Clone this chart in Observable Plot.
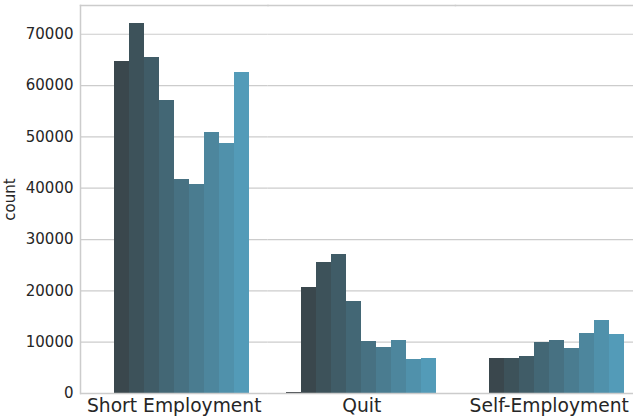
<!DOCTYPE html>
<html>
<head>
<meta charset="utf-8">
<script src="https://cdn.jsdelivr.net/npm/d3@7"></script>
<script src="https://cdn.jsdelivr.net/npm/@observablehq/plot@0.6"></script>
<style>
  html, body { margin: 0; padding: 0; background: #fff; overflow: hidden; }
  #chart svg { font-family: "DejaVu Sans", sans-serif; }
</style>
</head>
<body>
<div id="chart"></div>
<script>
const categories = ["Short Employment", "Quit", "Self-Employment"];
const hueLevels = ["1", "2", "3", "4", "5", "6", "7", "8", "9", "10"];
const shortEmployment = [0, 64700, 72000, 65500, 57100, 41700, 40800, 50900, 48700, 62600];
const quit = [150, 20650, 25550, 27100, 17950, 10150, 8950, 10300, 6650, 6800];
const selfEmployment = [0, 6800, 6800, 7200, 9950, 10300, 8750, 11700, 14250, 11500];
const yTicks = [0, 10000, 20000, 30000, 40000, 50000, 60000, 70000];
const palette = ["#373d40", "#3a474d", "#3d525a", "#405c67", "#436775", "#477182", "#4a7c90", "#4d869d", "#5091ab", "#539bb8"];

const series = [shortEmployment, quit, selfEmployment];
const data = [];
categories.forEach((c, i) => {
  hueLevels.forEach((h, j) => {
    data.push({category: c, hue: h, count: series[i][j]});
  });
});

const gridColor = "#cccccc";
const textColor = "#262626";

const chart = Plot.plot({
  width: 633,
  height: 420,
  marginLeft: 80,
  marginRight: 0,
  marginTop: 5,
  marginBottom: 27,
  style: {fontFamily: "DejaVu Sans, sans-serif", color: textColor, background: "#fff"},
  fx: {domain: categories, range: [80, 642.5], paddingInner: 0, paddingOuter: 0, round: false, label: null},
  x: {domain: hueLevels, paddingInner: 0, paddingOuter: 1.25, round: false, axis: null},
  y: {domain: [0, 75600], label: null},
  color: {domain: hueLevels, range: palette},
  marks: [
    Plot.gridY(yTicks, {stroke: gridColor, strokeOpacity: 1, strokeWidth: 1.2}),
    Plot.barY(data, {fx: "category", x: "hue", y: "count", fill: "hue", shapeRendering: "crispEdges"}),
    Plot.ruleY([0], {stroke: gridColor, strokeWidth: 1.5}),
    Plot.frame({anchor: "top", stroke: gridColor, strokeWidth: 1.5}),
    Plot.frame({anchor: "left", stroke: gridColor, strokeWidth: 1.5, facetAnchor: "left"}),
    Plot.axisY(yTicks, {
      tickSize: 0, tickPadding: 7, fontSize: 15, tickFormat: d => String(d),
      label: "count", labelAnchor: "center", labelArrow: "none", labelOffset: 76
    }),
    Plot.axisFx({anchor: "bottom", tickSize: 0, tickPadding: 5, fontSize: 18.7, label: null})
  ]
});
document.getElementById("chart").appendChild(chart);
</script>
</body>
</html>
